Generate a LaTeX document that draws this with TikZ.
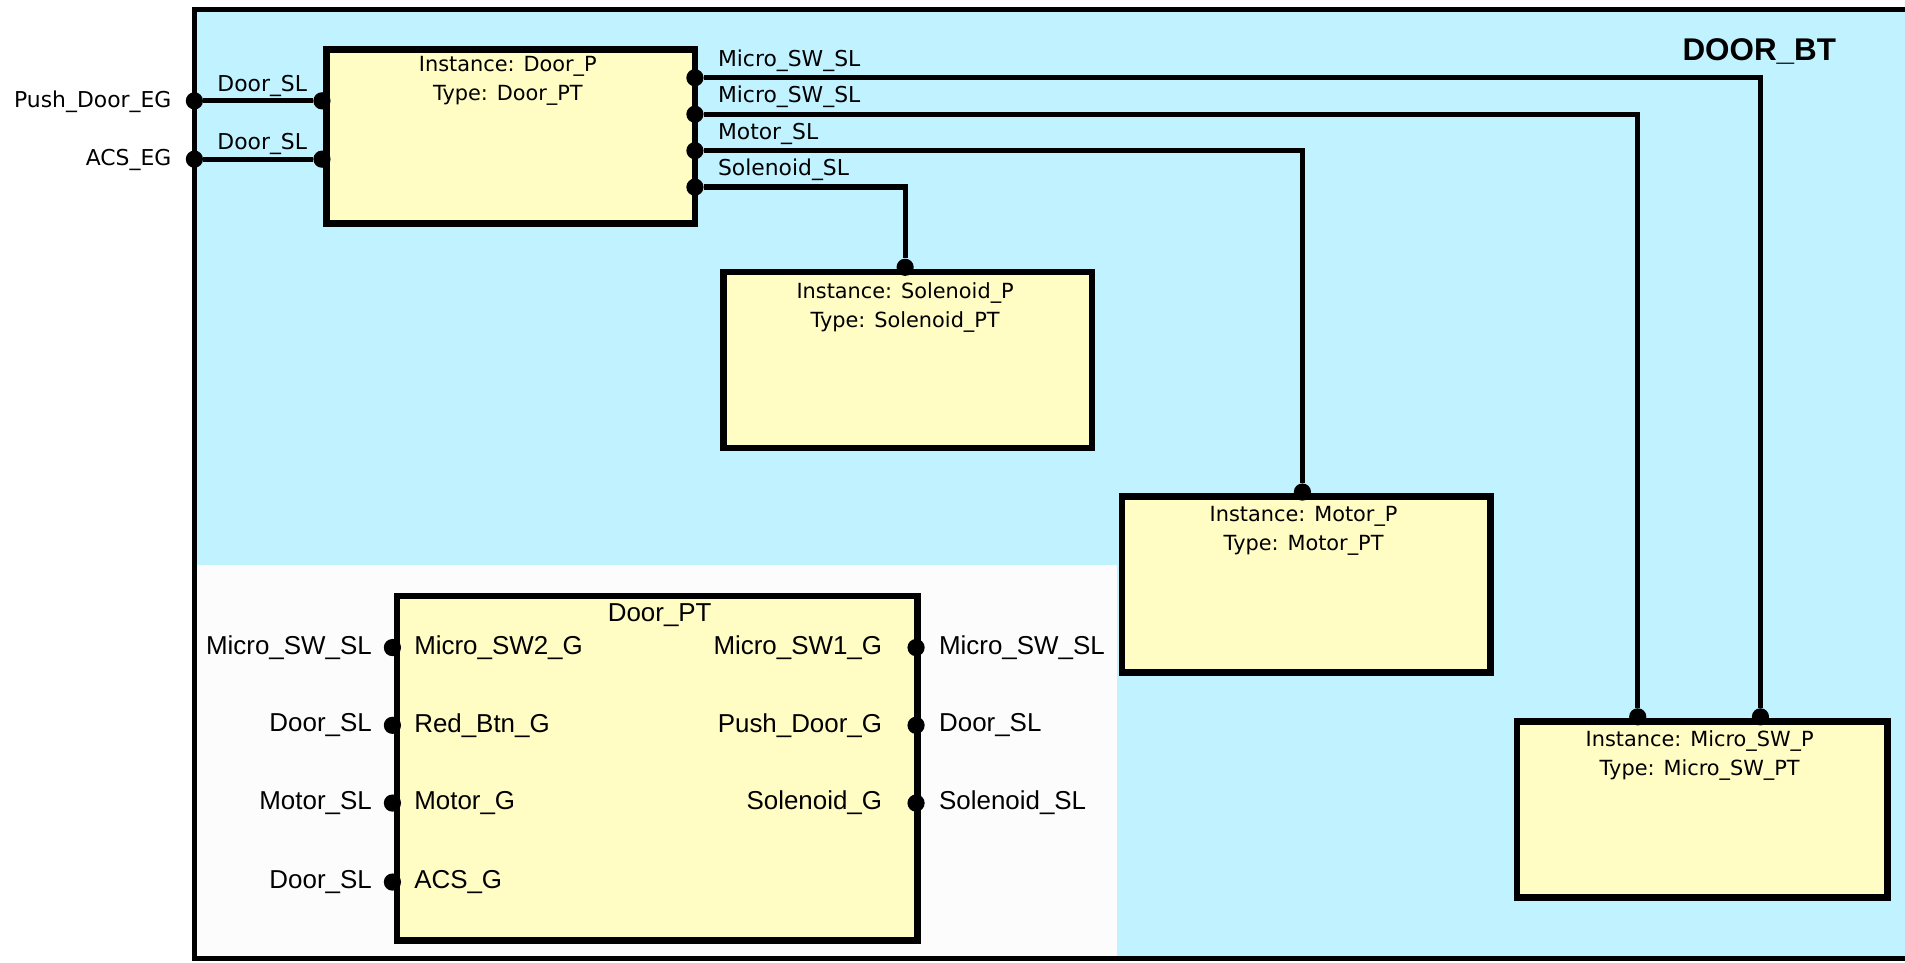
\documentclass[tikz,border=0pt]{standalone}
\usepackage{fontspec}
\setmainfont{Liberation Sans}
\newfontfamily\pixfont{DejaVu Sans}
\usetikzlibrary{positioning}
\definecolor{btblue}{RGB}{192,242,255}
\definecolor{partyellow}{RGB}{255,252,196}
\definecolor{offwhite}{RGB}{252,252,252}
\tikzset{
  port/.style={circle, fill=black, minimum size=8.5pt, inner sep=0pt},
  wire/.style={line width=2.6pt}
}

\begin{document}
\begin{tikzpicture}
    [x=0.6pt, y=-0.6pt,
    part/.style={draw, fill=partyellow, line width=3.2pt, anchor=north west, inner sep=0pt},
    inst/.style={font=\pixfont\fontsize{10.3}{14.4}\selectfont, align=center, inner sep=0pt},
    plabel/.style={font=\pixfont\fontsize{10.8}{12}\selectfont, inner sep=1pt},
    glabel/.style={font=\fontsize{12.8}{15}\selectfont, inner sep=1pt}]
     \clip (0,0) rectangle (1568,792);
     \fill[white] (0,0) rectangle (1568,792);
     % block type frame
     \draw[line width=2.6pt, fill=btblue] (160,8) rectangle (1620,789);
     \fill[offwhite] (162,465) rectangle (919,787);
     \node[font=\bfseries\fontsize{15.5}{18}\selectfont] (bt) at (1448,42) {DOOR\_BT};
     % part instances
     \node[part, minimum width=182pt, minimum height=86pt] (doorp) at (266,38) {};
     \node[part, minimum width=182pt, minimum height=87pt] (solp) at (593,221) {};
     \node[part, minimum width=182pt, minimum height=87pt] (motp) at (921,406) {};
     \node[part, minimum width=183pt, minimum height=87pt] (mswp) at (1246,591) {};
     \node[inst, anchor=north] at (418,46) {Instance: Door\_P\\Type: Door\_PT};
     \node[inst, anchor=north] at (745,232) {Instance: Solenoid\_P\\Type: Solenoid\_PT};
     \node[inst, anchor=north] at (1073,416) {Instance: Motor\_P\\Type: Motor\_PT};
     \node[inst, anchor=north] at (1399,601) {Instance: Micro\_SW\_P\\Type: Micro\_SW\_PT};
     % ports
     \node[port] (pdoor) at (160,83) {};
     \node[port] (pacs) at (160,131) {};
     \node[port] (d1) at (265,83) {};
     \node[port] (d2) at (265,131) {};
     \node[port] (d3) at (572,64) {};
     \node[port] (d4) at (572,94) {};
     \node[port] (d5) at (572,124) {};
     \node[port] (d6) at (572,154) {};
     \node[port] (s1) at (745,220) {};
     \node[port] (m1) at (1072,405) {};
     \node[port] (w1) at (1348,590) {};
     \node[port] (w2) at (1449,590) {};
     \node[plabel, anchor=east] at (143,84) {Push\_Door\_EG};
     \node[plabel, anchor=east] at (143,132) {ACS\_EG};
     % connections
     \draw[wire] (pdoor) -- node[above, plabel, xshift=2pt] {Door\_SL} (d1);
     \draw[wire] (pacs) -- node[above, plabel, xshift=2pt] {Door\_SL} (d2);
     \draw[wire] (d3) -| (w2);
     \draw[wire] (d4) -| (w1);
     \draw[wire] (d5) -| (m1);
     \draw[wire] (d6) -| (s1);
     \node[plabel, anchor=west] at (589,50) {Micro\_SW\_SL};
     \node[plabel, anchor=west] at (589,80) {Micro\_SW\_SL};
     \node[plabel, anchor=west] at (589,110) {Motor\_SL};
     \node[plabel, anchor=west] at (589,140) {Solenoid\_SL};
     % part type
     \node[part, minimum width=257pt, minimum height=170pt] (doorpt) at (324,488) {};
     \node[glabel] at (543,506) {Door\_PT};
     \foreach \y/\g/\s [count=\i] in {533/Micro\_SW2\_G/Micro\_SW\_SL, 597/Red\_Btn\_G/Door\_SL,
                                      661/Motor\_G/Motor\_SL, 726/ACS\_G/Door\_SL} {
       \node[port] (gl\i) at (323,\y) {};
       \node[glabel, anchor=west] at (339,\y) {\g};
       \node[glabel, anchor=east] at (308,\y) {\s};
     }
     \foreach \y/\g/\s [count=\i] in {533/Micro\_SW1\_G/Micro\_SW\_SL, 597/Push\_Door\_G/Door\_SL,
                                      661/Solenoid\_G/Solenoid\_SL} {
       \node[port] (gr\i) at (754,\y) {};
       \node[glabel, anchor=east] at (728,\y) {\g};
       \node[glabel, anchor=west] at (771,\y) {\s};
     }
\end{tikzpicture}
\end{document}
